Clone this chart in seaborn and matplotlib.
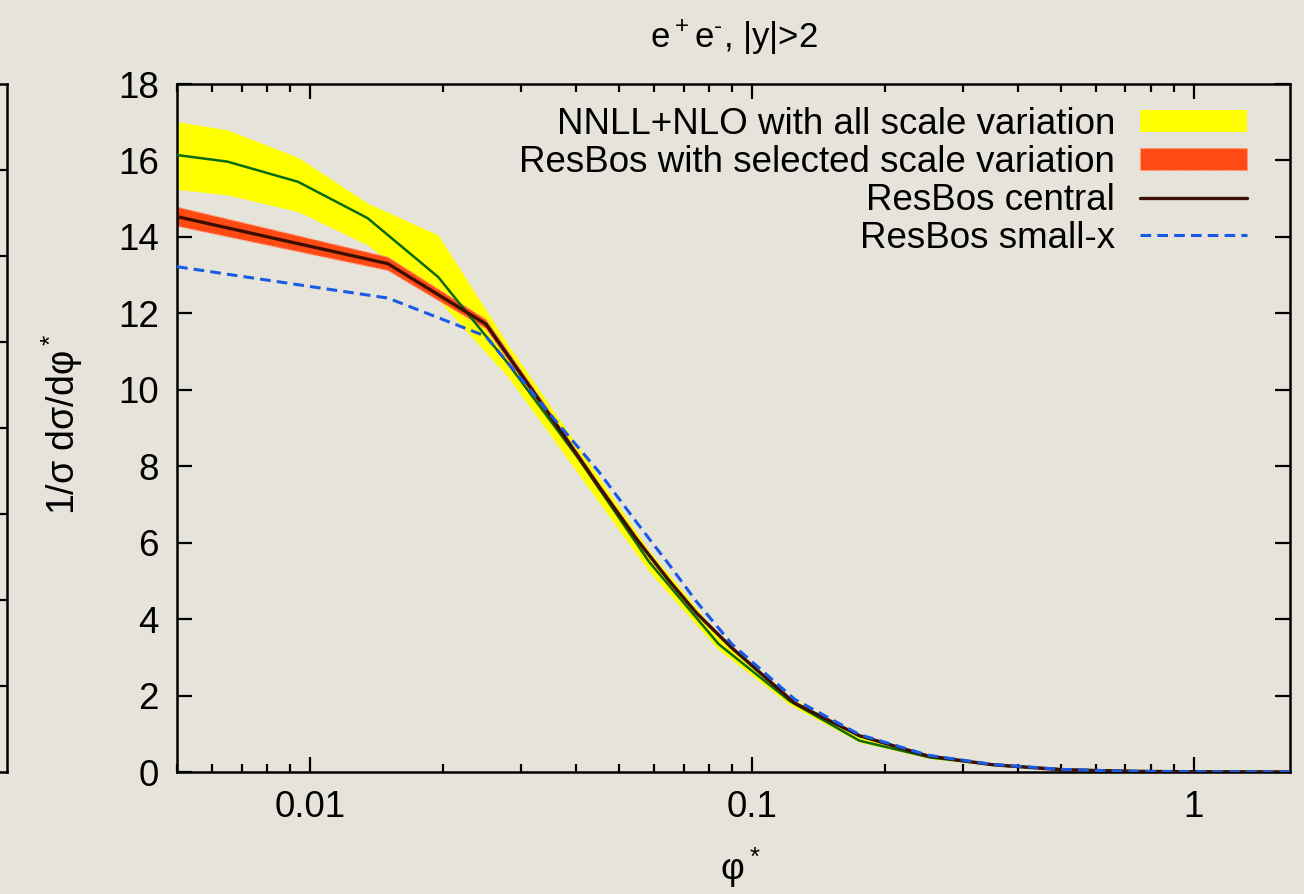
import matplotlib
matplotlib.use("Agg")
import matplotlib.pyplot as plt
import pandas as pd
import seaborn as sns
from matplotlib.patches import Patch
from matplotlib.lines import Line2D
from matplotlib.ticker import NullFormatter

# NNLL+NLO prediction (log-spaced points), central value and scale band
phi_nnll = [0.0045, 0.0065, 0.0094, 0.0135, 0.0195, 0.028, 0.0405, 0.0585,
            0.084, 0.122, 0.175, 0.253, 0.365, 0.526, 0.76, 1.09, 1.58]
nnll_central = [16.21, 15.97, 15.44, 14.49, 12.95, 10.7, 8.2, 5.5,
                3.35, 1.85, 0.82, 0.38, 0.17, 0.06, 0.02, 0.01, 0.0]
nnll_low = [15.3, 15.10, 14.66, 13.79, 12.35, 10.35, 7.8, 5.25,
            3.2, 1.75, 0.78, 0.35, 0.15, 0.05, 0.015, 0.005, 0.0]
nnll_high = [17.1, 16.80, 16.08, 14.88, 14.05, 11.2, 8.5, 5.8,
             3.6, 1.97, 0.92, 0.42, 0.19, 0.07, 0.025, 0.01, 0.0]

# ResBos (bin centres)
phi_resbos = [0.005, 0.015, 0.025, 0.035, 0.045, 0.055, 0.065, 0.075,
              0.09, 0.125, 0.175, 0.25, 0.35, 0.5, 0.7, 1.0, 1.85]
resbos_central = [14.53, 13.30, 11.72, 9.31, 7.48, 6.07, 5.0, 4.15,
                  3.25, 1.80, 0.95, 0.42, 0.19, 0.06, 0.02, 0.005, 0.0]
resbos_low = [14.28, 13.12, 11.60, 9.22, 7.40, 6.00, 4.95, 4.10,
              3.21, 1.77, 0.93, 0.41, 0.19, 0.06, 0.02, 0.005, 0.0]
resbos_high = [14.78, 13.47, 11.84, 9.40, 7.56, 6.14, 5.05, 4.20,
               3.29, 1.83, 0.97, 0.43, 0.19, 0.06, 0.02, 0.005, 0.0]
resbos_smallx = [13.22, 12.40, 11.40, 9.35, 7.86, 6.51, 5.42, 4.45,
                 3.35, 1.90, 0.98, 0.44, 0.20, 0.07, 0.02, 0.005, 0.0]

legend_labels = ["NNLL+NLO with all scale variation",
                 "ResBos with selected scale variation",
                 "ResBos central",
                 "ResBos small-x"]
xtick_vals = [0.01, 0.1, 1]
xtick_labels = ["0.01", "0.1", "1"]

bg = "#e6e4da"
yellow = "#ffff00"
red = "#ff4a14"
salmon = "#ff9a7a"
green = "#0b6b10"
brown = "#3d0f00"
blue = "#1a5be6"
FS = 26.5

sns.set_theme(style="ticks")
plt.rcParams["font.family"] = ["Liberation Sans", "DejaVu Sans"]
plt.rcParams["mathtext.default"] = "regular"
plt.rcParams["text.color"] = "black"
plt.rcParams["axes.labelcolor"] = "black"

df_nnll = pd.DataFrame({"phi": phi_nnll, "central": nnll_central})
df_resbos = pd.DataFrame({"phi": phi_resbos, "central": resbos_central,
                          "smallx": resbos_smallx})

fig = plt.figure(figsize=(13.04, 8.94), dpi=100, facecolor=bg)
ax = fig.add_axes([177 / 1304, 122 / 894, 1113 / 1304, 688 / 894])
ax.set_facecolor(bg)

# bands
ax.fill_between(phi_nnll, nnll_low, nnll_high, color=yellow, lw=0, zorder=1)
ax.fill_between(phi_resbos, resbos_low, resbos_high, facecolor=red,
                edgecolor=salmon, linestyle="--", lw=0.8, zorder=2)

# lines
sns.lineplot(data=df_nnll, x="phi", y="central", color=green, lw=1.8,
             estimator=None, sort=False, ax=ax, zorder=3)
sns.lineplot(data=df_resbos, x="phi", y="central", color=brown, lw=2.4,
             estimator=None, sort=False, ax=ax, zorder=4)
sns.lineplot(data=df_resbos, x="phi", y="smallx", color=blue, lw=2.2,
             linestyle=(0, (3.5, 2.0)), estimator=None, sort=False, ax=ax, zorder=5)

ax.set_xscale("log")
ax.set_xlim(0.005, 1.65)
ax.set_ylim(0, 18)
ax.set_xticks(xtick_vals)
ax.set_xticklabels(xtick_labels)
ax.xaxis.set_minor_formatter(NullFormatter())
ax.set_yticks(range(0, 19, 2))
ax.tick_params(which="both", direction="in", top=True, right=True,
               labelsize=FS, width=1.6, color="black", labelcolor="black")
ax.tick_params(which="major", length=11)
ax.tick_params(which="minor", length=6)
ax.tick_params(axis="x", pad=13)
ax.tick_params(axis="y", pad=13)
for sp in ax.spines.values():
    sp.set_linewidth(1.8)
    sp.set_color("black")

ax.set_xlabel("")
ax.set_ylabel("")
ax.text(-0.103, 0.505, "1/σ dσ/dφ$^*$", rotation=90, ha="center", va="center",
        fontsize=27, transform=ax.transAxes)
ax.text(0.506, -0.14, "φ$^*$", ha="center", va="center", fontsize=FS,
        transform=ax.transAxes)
ax.text(0.5, 1.067, "e$^+$e$^‐$, |y|>2", ha="center", va="center", fontsize=25,
        transform=ax.transAxes)

handles = [Patch(facecolor=yellow, edgecolor="none"),
           Patch(facecolor=red, edgecolor=salmon, linestyle="--", lw=0.8),
           Line2D([], [], color=brown, lw=2.4),
           Line2D([], [], color=blue, lw=2.2, linestyle=(0, (3.5, 2.0)))]
ax.legend(handles, legend_labels, loc="upper right", bbox_to_anchor=(0.9614, 0.967),
          markerfirst=False, frameon=False, fontsize=FS, handlelength=2.9,
          handleheight=0.55, handletextpad=0.68, labelspacing=0.08,
          borderpad=0, borderaxespad=0)

# frame of the neighbouring panel, cut by the left edge
lax = fig.add_axes([-0.2, 122 / 894, 0.2 + 7 / 1304, 688 / 894])
lax.set_facecolor("none")
lax.set_xlim(0, 1)
lax.set_ylim(0, 8)
lax.spines["left"].set_visible(False)
for sp in ["right", "top", "bottom"]:
    lax.spines[sp].set_linewidth(1.8)
    lax.spines[sp].set_color("black")
lax.set_xticks([])
lax.yaxis.tick_right()
lax.set_yticks(range(1, 8))
lax.tick_params(axis="y", direction="in", length=11, width=1.6, color="black",
                labelright=False, labelleft=False)

fig.savefig("out.png", dpi=100, facecolor=bg)
